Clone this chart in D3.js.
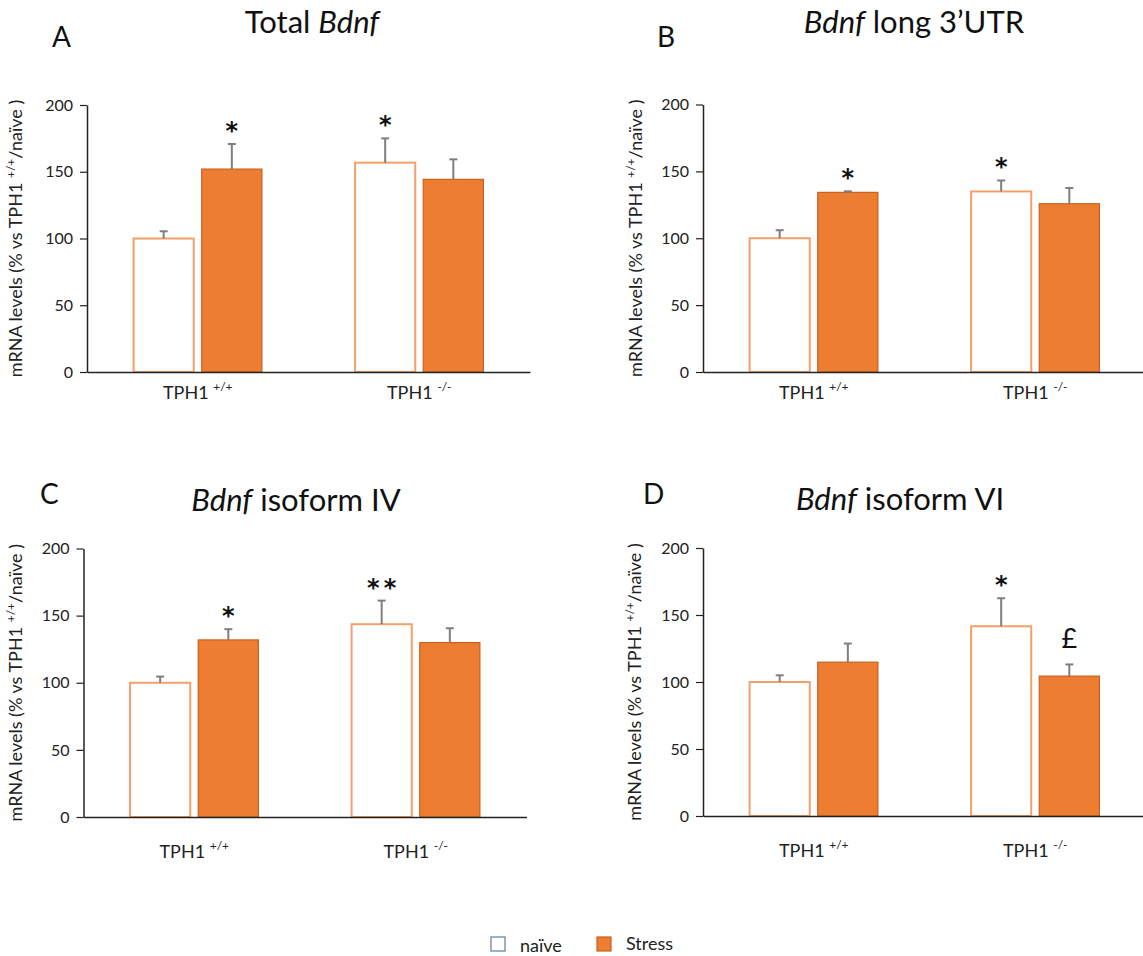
<!DOCTYPE html>
<html>
<head>
<meta charset="utf-8">
<script src="https://cdnjs.cloudflare.com/ajax/libs/d3/7.8.5/d3.min.js"></script>
<style>
  body { margin: 0; background: #fff; }
  svg { font-family: Lato, "Open Sans", sans-serif; }
</style>
</head>
<body>
<div id="chart"></div>
<script>
// values (% vs TPH1 +/+ naive), one row per panel A-D
const panels = ["A", "B", "C", "D"];
const genotypes = ["+/+", "-/-"];
const groups = ["naïve", "Stress"];
const naiveMean  = [[100, 156.8], [100, 135.0], [100, 143.6], [100, 141.6]];
const naiveSem   = [[5.4, 18.2], [6.0, 8.2], [4.6, 17.6], [5.0, 20.9]];
const stressMean = [[152.0, 144.3], [134.3, 125.8], [131.9, 129.9], [114.8, 104.4]];
const stressSem  = [[18.8, 15.0], [0.8, 11.8], [8.0, 10.7], [13.9, 8.7]];
const naiveMarks  = [["", "*"], ["", "*"], ["", "**"], ["", "*"]];
const stressMarks = [["*", ""], ["*", ""], ["*", ""], ["", "£"]];
const yTicks = [0, 50, 100, 150, 200];
const titles = [
  [["Total ", false], ["Bdnf", true]],
  [["Bdnf", true], [" long 3’UTR", false]],
  [["Bdnf", true], [" isoform IV", false]],
  [["Bdnf", true], [" isoform VI", false]]
];

// panel placement on the page
const layout = [
  {x0: 87,   x1: 530,  yTop: 105,   yBot: 372, letterX: 52,  letterY: 47,  titleX: 312, titleY: 33,  ylabX: 22,  catDy: 27},
  {x0: 703,  x1: 1146, yTop: 104.5, yBot: 372, letterX: 657, letterY: 47,  titleX: 914, titleY: 33,  ylabX: 642, catDy: 27},
  {x0: 83.5, x1: 526.5, yTop: 548.5, yBot: 817, letterX: 40,  letterY: 504, titleX: 296, titleY: 511, ylabX: 22,  catDy: 41},
  {x0: 703,  x1: 1146, yTop: 548,   yBot: 816, letterX: 643, letterY: 504, titleX: 900, titleY: 510, ylabX: 641, catDy: 41}
];

const colStress = '#ED7D31';
const colStressLine = '#C9611F';
const colNaiveLine = '#F4A06A';
const colErr = '#7F7F7F';

const width = 1143, height = 956;
const svg = d3.select('#chart').append('svg')
  .attr('width', width)
  .attr('height', height);

function draw_panel(i) {
  let L = layout[i];
  let g = svg.append('g').attr('class', 'panel-' + panels[i]);

  let x = d3.scaleBand().domain(genotypes).range([L.x0, L.x1]);
  let xs = d3.scaleBand().domain(groups).range([0, x.bandwidth()])
    .paddingInner(0.088).paddingOuter(0.669);
  let y = d3.scaleLinear().domain([0, 200]).range([L.yBot, L.yTop]);

  // bars
  let rows = genotypes.map((gt, k) => [
    {gt: gt, grp: groups[0], v: naiveMean[i][k], e: naiveSem[i][k], m: naiveMarks[i][k]},
    {gt: gt, grp: groups[1], v: stressMean[i][k], e: stressSem[i][k], m: stressMarks[i][k]}
  ]).flat();

  g.selectAll('rect.bar')
    .data(rows)
    .enter()
    .append('rect')
    .attr('class', 'bar')
    .attr('x', d => x(d.gt) + xs(d.grp) + 1)
    .attr('width', xs.bandwidth() - 2)
    .attr('y', d => y(d.v))
    .attr('height', d => y(0) - y(d.v))
    .attr('fill', d => d.grp === 'Stress' ? colStress : '#fff')
    .attr('stroke', d => d.grp === 'Stress' ? colStressLine : colNaiveLine)
    .attr('stroke-width', d => d.grp === 'Stress' ? 1.2 : 2);

  // error bars (upper only)
  let cx = d => x(d.gt) + xs(d.grp) + xs.bandwidth() / 2;
  g.selectAll('line.err')
    .data(rows)
    .enter()
    .append('line')
    .attr('class', 'err')
    .attr('x1', cx).attr('x2', cx)
    .attr('y1', d => y(d.v))
    .attr('y2', d => y(d.v + d.e))
    .attr('stroke', colErr)
    .attr('stroke-width', 2);
  g.selectAll('line.cap')
    .data(rows)
    .enter()
    .append('line')
    .attr('class', 'cap')
    .attr('x1', d => cx(d) - 4).attr('x2', d => cx(d) + 4)
    .attr('y1', d => y(d.v + d.e))
    .attr('y2', d => y(d.v + d.e))
    .attr('stroke', colErr)
    .attr('stroke-width', 2);

  // significance marks
  g.selectAll('text.mark')
    .data(rows.filter(d => d.m !== ''))
    .enter()
    .append('text')
    .attr('class', 'mark')
    .attr('x', d => cx(d) + (d.m === '**' ? 2 : 0))
    .attr('y', d => y(d.v + d.e) - (d.m === '£' ? 16 : 5))
    .attr('text-anchor', 'middle')
    .attr('font-family', d => d.m === '£' ? 'Lato, sans-serif' : '"DejaVu Sans", sans-serif')
    .attr('font-size', d => d.m === '£' ? 27 : 24)
    .attr('font-weight', d => d.m === '£' ? 'normal' : 'bold')
    .attr('letter-spacing', d => d.m === '**' ? 4 : 0)
    .attr('fill', '#111')
    .text(d => d.m);

  // y axis
  let yAxis = g.append('g')
    .attr('transform', `translate(${L.x0},0)`)
    .call(d3.axisLeft(y).tickValues(yTicks).tickSize(7).tickPadding(7).tickSizeOuter(0));
  yAxis.select('.domain').attr('stroke', '#222').attr('stroke-width', 1.5);
  yAxis.selectAll('.tick line').attr('stroke', '#222').attr('stroke-width', 1.2);
  yAxis.selectAll('.tick text').attr('font-size', 16).attr('fill', '#222')
    .attr('font-family', 'Lato, sans-serif');

  // x axis
  let xAxis = g.append('g')
    .attr('transform', `translate(0,${L.yBot})`)
    .call(d3.axisBottom(x).tickSize(0).tickSizeOuter(0).tickFormat(''));
  xAxis.select('.domain').attr('stroke', '#222').attr('stroke-width', 1.5);
  let lab = xAxis.selectAll('.tick').append('text')
    .attr('y', L.catDy)
    .attr('text-anchor', 'middle')
    .attr('fill', '#222')
    .attr('font-size', 18)
    .attr('font-family', 'Lato, sans-serif');
  lab.append('tspan').text('TPH1 ');
  lab.append('tspan').attr('font-size', 12).attr('dy', -8).text(d => d);

  // y axis title
  let yl = g.append('text')
    .attr('transform', `translate(${L.ylabX},${(L.yTop + L.yBot) / 2}) rotate(-90)`)
    .attr('text-anchor', 'middle')
    .attr('font-size', 18)
    .attr('fill', '#222');
  yl.append('tspan').text('mRNA levels (% vs TPH1 ');
  yl.append('tspan').attr('font-size', 12).attr('dy', -7).text('+/+');
  yl.append('tspan').attr('dy', 7).text('/naïve )');

  // panel letter and title
  g.append('text')
    .attr('x', L.letterX).attr('y', L.letterY)
    .attr('font-size', 28)
    .attr('fill', '#111')
    .text(panels[i]);

  let t = g.append('text')
    .attr('x', L.titleX).attr('y', L.titleY)
    .attr('text-anchor', 'middle')
    .attr('font-size', 31)
    .attr('fill', '#111');
  t.selectAll('tspan')
    .data(titles[i])
    .enter()
    .append('tspan')
    .attr('font-style', d => d[1] ? 'italic' : 'normal')
    .text(d => d[0]);
}

panels.forEach((p, i) => draw_panel(i));

// legend
let legend = svg.append('g').attr('class', 'legend');
let legX = d3.scalePoint().domain(groups).range([491, 597]);
legend.selectAll('rect')
  .data(groups)
  .enter()
  .append('rect')
  .attr('x', d => legX(d))
  .attr('y', 937)
  .attr('width', 14)
  .attr('height', 14)
  .attr('fill', d => d === 'Stress' ? colStress : '#fff')
  .attr('stroke', d => d === 'Stress' ? colStressLine : '#5F7A9E')
  .attr('stroke-width', 1.2);
legend.selectAll('text')
  .data(groups)
  .enter()
  .append('text')
  .attr('x', d => legX(d) + 29)
  .attr('y', d => d === 'Stress' ? 949.5 : 951.5)
  .attr('font-size', 18)
  .attr('fill', '#222')
  .text(d => d);
</script>
</body>
</html>
